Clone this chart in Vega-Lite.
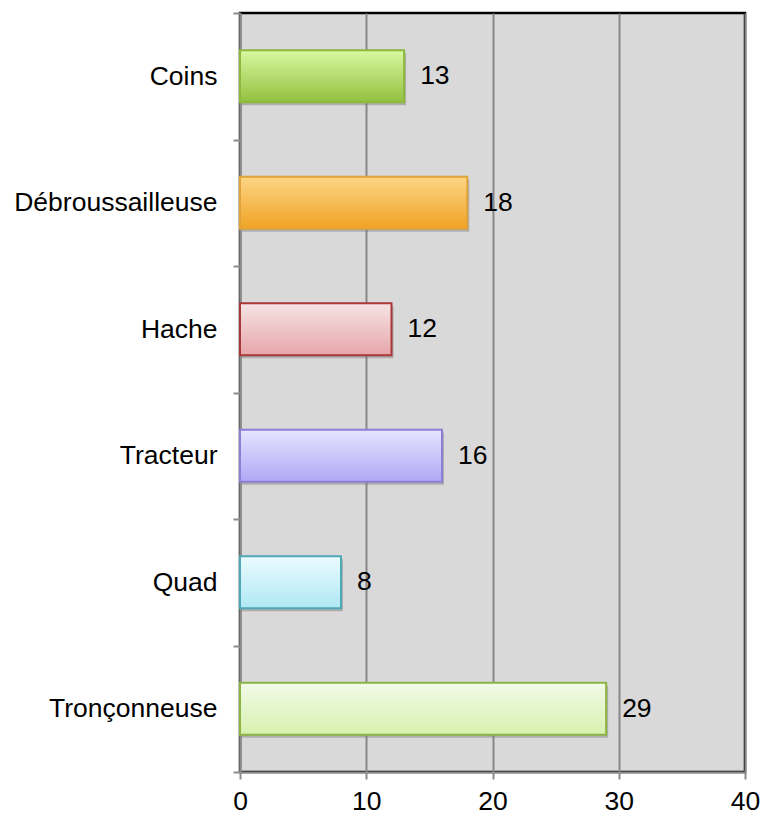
{
  "$schema": "https://vega.github.io/schema/vega-lite/v6.json",
  "autosize": {"type": "none"},
  "padding": {"left": 240, "top": 13, "right": 19, "bottom": 43},
  "width": 505,
  "height": 759,
  "background": "#ffffff",
  "config": {
    "view": {"fill": "#d9d9d9", "stroke": "#000000", "strokeWidth": 2.5},
    "font": "Liberation Sans",
    "axis": {"labelFont": "Liberation Sans", "labelFontSize": 26.5, "labelColor": "#000000", "domainColor": "#8c8c8c", "domainWidth": 2, "tickColor": "#8c8c8c", "tickWidth": 2, "tickSize": 7, "title": null}
  },
  "data": {"values": [
    {"cat": "Coins", "v": 13},
    {"cat": "Débroussailleuse", "v": 18},
    {"cat": "Hache", "v": 12},
    {"cat": "Tracteur", "v": 16},
    {"cat": "Quad", "v": 8},
    {"cat": "Tronçonneuse", "v": 29}
  ]},
  "encoding": {
    "y": {"field": "cat", "type": "nominal", "sort": null,
      "scale": {"paddingInner": 0, "paddingOuter": 0},
      "axis": {"tickBand": "extent", "labelPadding": 16, "labelLimit": 400, "grid": false}},
    "x": {"field": "v", "type": "quantitative",
      "scale": {"domain": [0, 40], "nice": false},
      "axis": {"values": [0, 10, 20, 30, 40], "grid": true, "gridColor": "#878787", "gridWidth": 2, "labelPadding": 9, "labelFlush": false, "labelOverlap": false}}
  },
  "layer": [
    {"mark": {"type": "bar", "height": {"band": 0.41}, "color": "#7a7a7a", "opacity": 0.45, "xOffset": 2, "yOffset": 3}},
    {"transform": [{"filter": "datum.cat === 'Coins'"}],
     "mark": {"type": "bar", "height": {"band": 0.41}, "stroke": "#8cb83e", "strokeWidth": 2,
       "fill": {"gradient": "linear", "x1": 0, "y1": 0, "x2": 0, "y2": 1, "stops": [{"offset": 0, "color": "#d8f8a0"}, {"offset": 1, "color": "#93c040"}]}}},
    {"transform": [{"filter": "datum.cat === 'Débroussailleuse'"}],
     "mark": {"type": "bar", "height": {"band": 0.41}, "stroke": "#e0a23a", "strokeWidth": 2,
       "fill": {"gradient": "linear", "x1": 0, "y1": 0, "x2": 0, "y2": 1, "stops": [{"offset": 0, "color": "#fdd585"}, {"offset": 1, "color": "#f0a324"}]}}},
    {"transform": [{"filter": "datum.cat === 'Hache'"}],
     "mark": {"type": "bar", "height": {"band": 0.41}, "stroke": "#a83838", "strokeWidth": 2,
       "fill": {"gradient": "linear", "x1": 0, "y1": 0, "x2": 0, "y2": 1, "stops": [{"offset": 0, "color": "#f7e3e5"}, {"offset": 1, "color": "#e6a6a9"}]}}},
    {"transform": [{"filter": "datum.cat === 'Tracteur'"}],
     "mark": {"type": "bar", "height": {"band": 0.41}, "stroke": "#8a80d6", "strokeWidth": 2,
       "fill": {"gradient": "linear", "x1": 0, "y1": 0, "x2": 0, "y2": 1, "stops": [{"offset": 0, "color": "#e6e4fe"}, {"offset": 1, "color": "#b0a8f6"}]}}},
    {"transform": [{"filter": "datum.cat === 'Quad'"}],
     "mark": {"type": "bar", "height": {"band": 0.41}, "stroke": "#4ea8b8", "strokeWidth": 2,
       "fill": {"gradient": "linear", "x1": 0, "y1": 0, "x2": 0, "y2": 1, "stops": [{"offset": 0, "color": "#eafbfe"}, {"offset": 1, "color": "#afe8f4"}]}}},
    {"transform": [{"filter": "datum.cat === 'Tronçonneuse'"}],
     "mark": {"type": "bar", "height": {"band": 0.41}, "stroke": "#8cb445", "strokeWidth": 2,
       "fill": {"gradient": "linear", "x1": 0, "y1": 0, "x2": 0, "y2": 1, "stops": [{"offset": 0, "color": "#f1fae8"}, {"offset": 1, "color": "#d7f1ae"}]}}},
    {"mark": {"type": "text", "align": "left", "baseline": "middle", "dx": 16, "fontSize": 26.5, "font": "Liberation Sans", "color": "#000000"},
     "encoding": {"text": {"field": "v", "type": "quantitative"}}}
  ]
}
